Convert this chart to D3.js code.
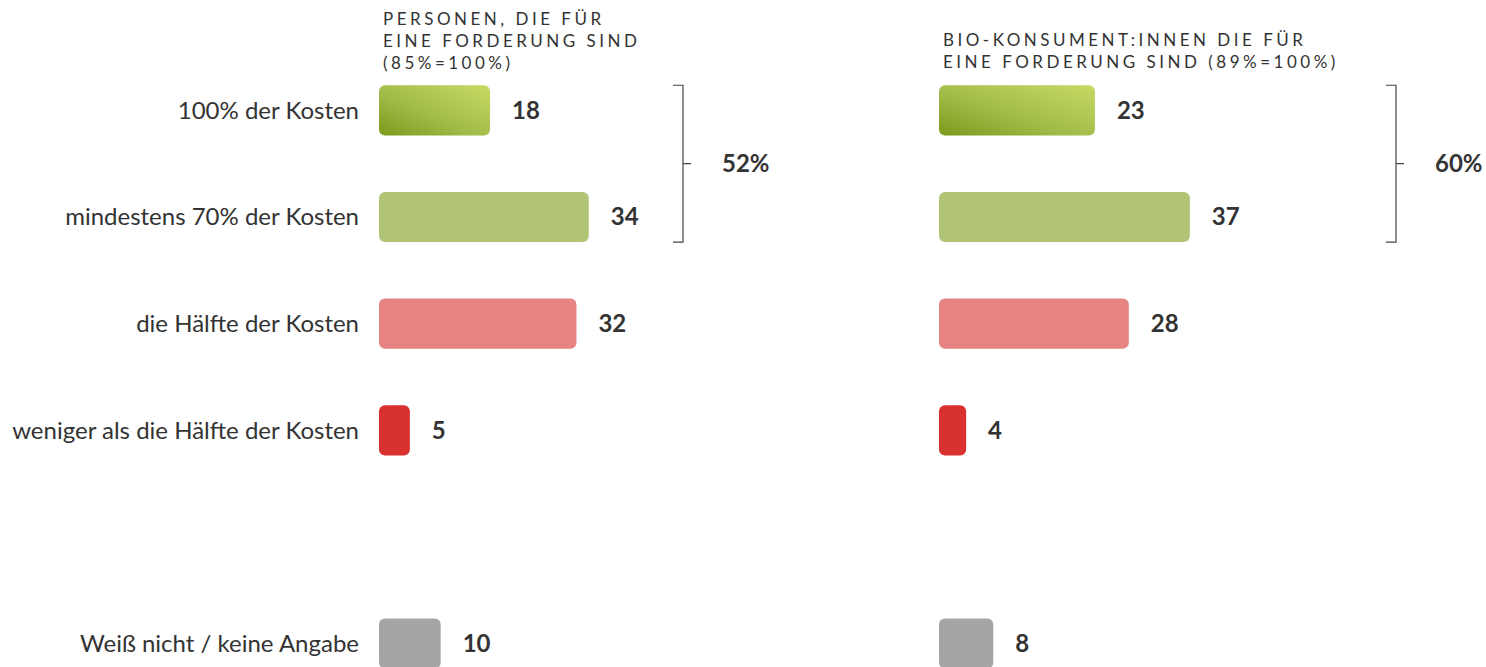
<!DOCTYPE html>
<html>
<head>
<meta charset="utf-8">
<script src="https://cdn.jsdelivr.net/npm/d3@7"></script>
<style>
  body { margin: 0; background: #fff; }
  svg { font-family: Lato, "Open Sans", sans-serif; }
</style>
</head>
<body>
<div id="chart"></div>
<script>
// categories, "" is the empty gap row
const categories = ["100% der Kosten", "mindestens 70% der Kosten", "die Hälfte der Kosten",
                    "weniger als die Hälfte der Kosten", "", "Weiß nicht / keine Angabe"];
const valuesAll = [18, 34, 32, 5, null, 10];
const valuesBio = [23, 37, 28, 4, null, 8];
const titleAll = ["PERSONEN, DIE FÜR", "EINE FORDERUNG SIND", "(85%=100%)"];
const titleBio = ["BIO-KONSUMENT:INNEN DIE FÜR", "EINE FORDERUNG SIND (89%=100%)"];
const sumAll = "52%";
const sumBio = "60%";
const barColors = ["url(#grad)", "#b1c475", "#e68383", "#d93030", "none", "#a5a5a5"];

const w = 1486;
const h = 667;

const svg = d3.select("#chart")
    .append("svg")
    .attr("width", w)
    .attr("height", h);

const grad = svg.append("defs").append("linearGradient")
    .attr("id", "grad")
    .attr("x1", "0%").attr("y1", "100%")
    .attr("x2", "100%").attr("y2", "0%");
grad.append("stop").attr("offset", "0%").attr("stop-color", "#7a9b1d");
grad.append("stop").attr("offset", "45%").attr("stop-color", "#a3bd4a");
grad.append("stop").attr("offset", "100%").attr("stop-color", "#c6da63");

const yScale = d3.scaleBand()
    .domain(categories.map((d, i) => i))
    .range([57, 697])
    .paddingInner(0.53)
    .paddingOuter(0.265);

// category labels
svg.selectAll("text.cat")
    .data(categories)
    .enter()
    .append("text")
    .attr("class", "cat")
    .attr("x", 359)
    .attr("y", (d, i) => yScale(i) + yScale.bandwidth() / 2)
    .attr("dy", "0.35em")
    .style("text-anchor", "end")
    .style("font-size", "24px")
    .style("fill", "#333")
    .text(d => d);

function panel(x0, unit, values, title, titleY, sum, bracketX) {
    const xScale = d3.scaleLinear()
        .domain([0, 100])
        .range([x0, x0 + unit * 100]);

    const g = svg.append("g");

    g.selectAll("text.title")
        .data(title)
        .enter()
        .append("text")
        .attr("x", x0 + 4)
        .attr("y", (d, i) => titleY + i * 22)
        .style("font-size", "17px")
        .style("letter-spacing", "3.5px")
        .style("fill", "#333")
        .text(d => d);

    const rows = values.map((v, i) => ({v: v, i: i})).filter(d => d.v !== null);

    g.selectAll("rect")
        .data(rows)
        .enter()
        .append("rect")
        .attr("x", xScale(0))
        .attr("y", d => yScale(d.i))
        .attr("width", d => xScale(d.v) - xScale(0))
        .attr("height", yScale.bandwidth())
        .attr("rx", 6)
        .attr("fill", d => barColors[d.i]);

    g.selectAll("text.val")
        .data(rows)
        .enter()
        .append("text")
        .attr("class", "val")
        .attr("x", d => xScale(d.v) + 22)
        .attr("y", d => yScale(d.i) + yScale.bandwidth() / 2)
        .attr("dy", "0.35em")
        .style("font-size", "24px")
        .style("font-weight", "bold")
        .style("fill", "#333")
        .text(d => d.v);

    // bracket over the first two rows
    const top = yScale(0);
    const bot = yScale(1) + yScale.bandwidth();
    const mid = (top + bot) / 2;
    g.append("path")
        .attr("d", "M" + (bracketX - 10) + "," + top + " H" + bracketX + " V" + bot + " H" + (bracketX - 10)
             + " M" + bracketX + "," + mid + " H" + (bracketX + 8))
        .attr("fill", "none")
        .attr("stroke", "#444")
        .attr("stroke-width", 1.2);

    g.append("text")
        .attr("x", bracketX + 39)
        .attr("y", mid)
        .attr("dy", "0.35em")
        .style("font-size", "24px")
        .style("font-weight", "bold")
        .style("fill", "#333")
        .text(sum);
}

panel(379, 6.17, valuesAll, titleAll, 25, sumAll, 683);
panel(939, 6.78, valuesBio, titleBio, 46, sumBio, 1396);
</script>
</body>
</html>
